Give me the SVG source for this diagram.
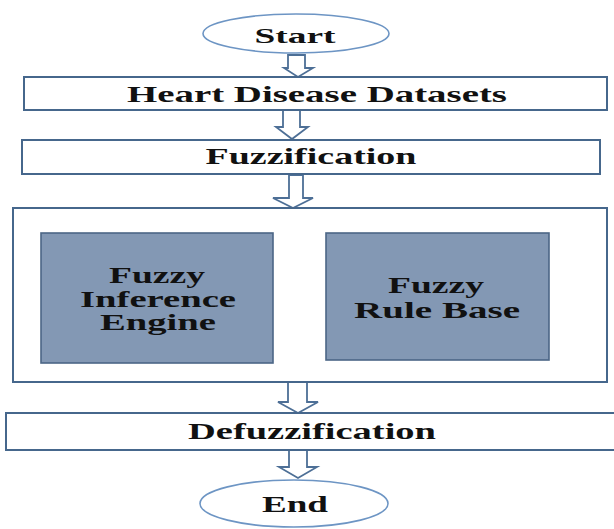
<svg xmlns="http://www.w3.org/2000/svg" width="614" height="529" viewBox="0 0 614 529">
<style>
.box{fill:#ffffff;stroke:#46678c;stroke-width:2}
.inner{fill:#8398b4;stroke:#4c6686;stroke-width:1.6}
.oval{fill:#ffffff;stroke:#6d95c4;stroke-width:1.6}
.arr{fill:#ffffff;stroke:#4d6f96;stroke-width:1.8;stroke-linejoin:miter}
.t{font-family:"Liberation Serif","Times New Roman",serif;font-weight:bold;fill:#111111;text-anchor:middle}
</style>
<rect width="614" height="529" fill="#ffffff"/>
<g id="connectors">
<polygon class="arr" points="288,55 305,55 305,68 313,68 298,77 284,68 288,68"/>
<polygon class="arr" points="283,110 300,110 300,127 308,127 292,139 276,127 283,127"/>
<polygon class="arr" points="289,175 303,175 303,198 313,198 293,208 273,198 289,198"/>
<polygon class="arr" points="288,382 307,382 307,402 318,402 298,413 278,402 288,402"/>
<polygon class="arr" points="289,450 307,450 307,467 317,467 298,478 279,467 289,467"/>
</g>
<g id="start">
<ellipse class="oval" cx="296" cy="33.5" rx="93" ry="19.5"/>
<text class="t" x="295" y="43" font-size="22" textLength="81" lengthAdjust="spacingAndGlyphs">Start</text>
</g>
<g id="datasets">
<rect class="box" x="24" y="77" width="583" height="33"/>
<text class="t" x="317" y="102" font-size="23" textLength="380" lengthAdjust="spacingAndGlyphs">Heart Disease Datasets</text>
</g>
<g id="fuzzification">
<rect class="box" x="22" y="140" width="578" height="34"/>
<text class="t" x="311" y="164" font-size="23" textLength="211" lengthAdjust="spacingAndGlyphs">Fuzzification</text>
</g>
<g id="container">
<rect class="box" x="13" y="208" width="594" height="174"/>
</g>
<g id="inference-engine">
<rect class="inner" x="41" y="233" width="232" height="130"/>
<text class="t" x="157" y="283" font-size="23" textLength="96" lengthAdjust="spacingAndGlyphs">Fuzzy</text>
<text class="t" x="158" y="307" font-size="23" textLength="156" lengthAdjust="spacingAndGlyphs">Inference</text>
<text class="t" x="158" y="330" font-size="23" textLength="116" lengthAdjust="spacingAndGlyphs">Engine</text>
</g>
<g id="rule-base">
<rect class="inner" x="326" y="233" width="223" height="127"/>
<text class="t" x="436" y="293" font-size="23" textLength="96" lengthAdjust="spacingAndGlyphs">Fuzzy</text>
<text class="t" x="437" y="318" font-size="23" textLength="166" lengthAdjust="spacingAndGlyphs">Rule Base</text>
</g>
<g id="defuzzification">
<rect class="box" x="6" y="413" width="612" height="37"/>
<text class="t" x="312" y="439" font-size="23" textLength="248" lengthAdjust="spacingAndGlyphs">Defuzzification</text>
</g>
<g id="end">
<ellipse class="oval" cx="294" cy="503.5" rx="94" ry="23.5"/>
<text class="t" x="295" y="512" font-size="23" textLength="66" lengthAdjust="spacingAndGlyphs">End</text>
</g>
</svg>
